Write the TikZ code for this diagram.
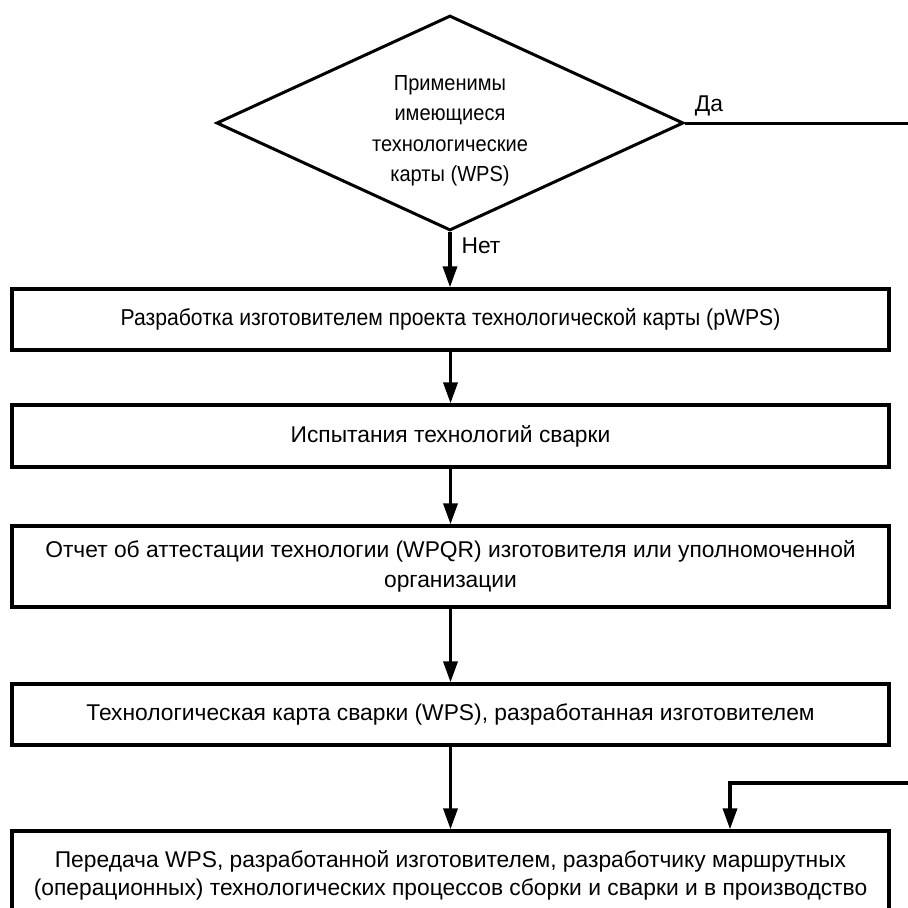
\documentclass[tikz,border=0pt]{standalone}
\usepackage{fontspec}
\setmainfont{Liberation Sans}
\newfontfamily\narrowfont[FakeStretch=0.92]{Liberation Sans}
\usetikzlibrary{shapes.geometric,arrows.meta}

\begin{document}
\begin{tikzpicture}[x=1pt,y=-1pt,
    txt/.style={font=\fontsize{22.8}{30}\selectfont},
    box/.style={draw,line width=3.3pt,minimum width=877pt,inner sep=0pt,align=center,txt},
    flow/.style={line width=3.5pt,-{Triangle[length=21pt,width=14pt]}}]
  \useasboundingbox (0,0) rectangle (908,908);

  % решение
  \node[diamond,draw,line width=3pt,minimum width=467pt,minimum height=215pt,
        inner sep=0pt] (q) at (450,123) {};
  \node[align=center,font=\narrowfont\fontsize{21.8}{30.5}\selectfont] (qtext) at (450,131)
    {Применимы\\имеющиеся\\технологические\\карты (WPS)};
  \node[txt] (yes) at (709,106) {Да};
  \node[txt] (no) at (481,246) {Нет};

  % этапы
  \node[box,minimum height=61pt,font=\narrowfont\fontsize{23}{30}\selectfont] (p1) at (450.5,319.5)
    {Разработка изготовителем проекта технологической карты (pWPS)};
  \node[box,minimum height=62pt] (p2) at (450.5,436)
    {Испытания технологий сварки};
  \node[box,minimum height=81pt] (p3) at (450.5,566.5)
    {Отчет об аттестации технологии (WPQR) изготовителя или уполномоченной\\организации};
  \node[box,minimum height=61pt] (p4) at (450.5,714.5)
    {Технологическая карта сварки (WPS), разработанная изготовителем};
  \node[box,minimum height=89pt,font=\fontsize{22.8}{28}\selectfont] (p5) at (450.5,875.5)
    {Передача WPS, разработанной изготовителем, разработчику маршрутных\\(операционных) технологических процессов сборки и сварки и в производство};

  \foreach \a/\b in {q/p1,p1/p2,p2/p3,p3/p4,p4/p5}
    \draw[flow] (\a.south) -- (\a.south |- \b.north);

  % ветвь «Да» и возврат
  \coordinate (out) at (908,123);
  \draw[line width=3pt] (q.east) -- (out);
  \coordinate (back) at (908,783);
  \coordinate (turn) at (730,783);
  \draw[flow] (back) -- (turn) -- (turn |- p5.north);
\end{tikzpicture}
\end{document}
